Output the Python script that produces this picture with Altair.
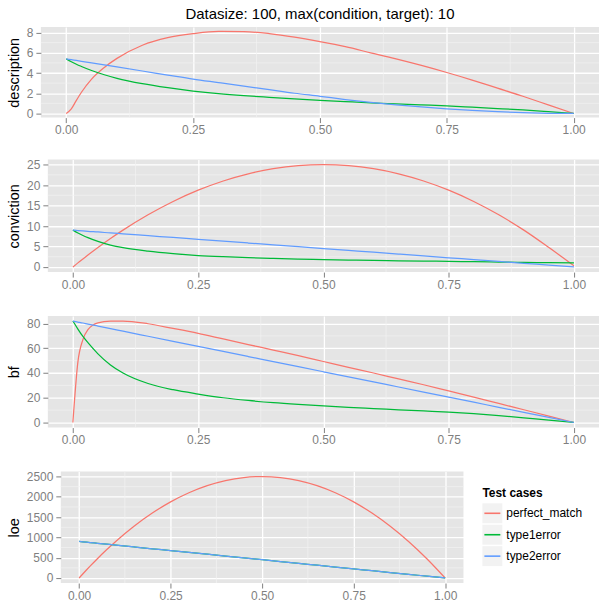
import altair as alt
import pandas as pd

# ---- data ----
x_vals = [0, 0.01, 0.02, 0.03, 0.05, 0.075, 0.1, 0.15, 0.2, 0.25, 0.3, 0.35,
          0.4, 0.45, 0.5, 0.55, 0.6, 0.65, 0.7, 0.75, 0.8, 0.85, 0.9, 0.95, 1.0]
cases = ["perfect_match", "type1error", "type2error"]
colors = ["#F8766D", "#00BA38", "#619CFF"]

description_perfect = [0, 0.45, 1.3, 2.1, 3.4, 4.55, 5.45, 6.75, 7.5, 7.9, 8.12, 8.1,
                       7.9, 7.55, 7.1, 6.6, 6.0, 5.4, 4.75, 4.05, 3.3, 2.5, 1.7, 0.85, 0]
description_type1 = [5.4, 5.12, 4.87, 4.65, 4.25, 3.83, 3.48, 2.95, 2.55, 2.22, 1.96, 1.76,
                     1.6, 1.45, 1.3, 1.17, 1.05, 0.95, 0.85, 0.75, 0.62, 0.49, 0.35, 0.18, 0]
description_type2 = [5.4, 5.32, 5.24, 5.16, 5.0, 4.8, 4.6, 4.2, 3.8, 3.4, 3.05, 2.7,
                     2.35, 2.0, 1.7, 1.38, 1.1, 0.86, 0.65, 0.46, 0.3, 0.17, 0.08, 0.02, 0]

conviction_perfect = [0, 1.0, 1.95, 2.9, 4.75, 6.95, 9.0, 12.75, 16.0, 18.75, 21.0, 22.75,
                      24.0, 24.75, 25.0, 24.75, 24.0, 22.75, 21.0, 18.75, 16.0, 12.75,
                      9.0, 4.75, 0.3]
conviction_type1 = [9.0, 8.3, 7.7, 7.15, 6.25, 5.35, 4.7, 3.85, 3.25, 2.8, 2.5, 2.27,
                    2.08, 1.93, 1.8, 1.7, 1.6, 1.52, 1.45, 1.35, 1.28, 1.2, 1.12, 1.06, 1.0]
conviction_type2 = [9.0, 8.9, 8.8, 8.7, 8.55, 8.3, 8.1, 7.65, 7.2, 6.75, 6.3, 5.85,
                    5.4, 4.95, 4.5, 4.05, 3.6, 3.15, 2.7, 2.25, 1.8, 1.35, 0.9, 0.45, 0]

bf_perfect = [0, 49, 67, 75, 80.5, 81.9, 82, 79.8, 76, 72, 67.5, 63,
              58.5, 54, 49.3, 44.6, 40, 35.2, 30.5, 25.5, 20.5, 15.4, 10.3, 5.2, 0]
bf_type1 = [82, 75.5, 69.5, 64.5, 55.5, 46.5, 40, 31.5, 26.5, 23, 20, 17.8,
            16.0, 14.6, 13.4, 12.3, 11.3, 10.3, 9.3, 8.3, 7.1, 5.6, 3.8, 2.0, 0]
bf_type2 = [82, 81.2, 80.4, 79.5, 77.9, 75.9, 73.8, 69.7, 65.6, 61.5, 57.4, 53.3,
            49.2, 45.1, 41, 36.9, 32.8, 28.7, 24.6, 20.5, 16.4, 12.3, 8.2, 4.1, 0]

loe_perfect = [0, 99, 196, 291, 475, 694, 900, 1275, 1600, 1875, 2100, 2275,
               2400, 2475, 2500, 2475, 2400, 2275, 2100, 1875, 1600, 1275, 900, 475, 0]
loe_type1 = [900, 891, 882, 873, 855, 832, 810, 765, 720, 675, 630, 585,
             540, 495, 450, 405, 360, 315, 270, 225, 180, 135, 90, 45, 0]
loe_type2 = [900, 891, 882, 873, 855, 832, 810, 765, 720, 675, 630, 585,
             540, 495, 450, 405, 360, 315, 270, 225, 180, 135, 90, 45, 0]

x_major = [0, 0.25, 0.5, 0.75, 1.0]
x_minor = [0.125, 0.375, 0.625, 0.875]

title_text = "Datasize: 100, max(condition, target): 10"
legend_title = "Test cases"

FONT = "Liberation Sans"
PANEL_BG = alt.ViewBackground(fill="#E5E5E5", stroke=None)
NO_BG = alt.ViewBackground(fill="white", stroke=None)


def long_df(series):
    rows = []
    for case, vals in zip(cases, series):
        for x, v in zip(x_vals, vals):
            rows.append({"x": x, "value": v, "case": case})
    return pd.DataFrame(rows)


color_scale = alt.Scale(domain=cases, range=colors)


def panel(series, ytitle, y_domain, y_major, y_minor, width, height, title=None):
    df = long_df(series)
    xs = alt.Scale(domain=[-0.05, 1.05], nice=False, zero=False)
    ys = alt.Scale(domain=y_domain, nice=False, zero=False)
    xaxis = alt.Axis(values=x_major, format=".2f", title=None, labelPadding=2)
    yaxis = alt.Axis(values=y_major, format="d", title=ytitle,
                     labelPadding=3, titlePadding=5)
    xenc = alt.X("x:Q", scale=xs, axis=xaxis)
    yenc = alt.Y("value:Q", scale=ys, axis=yaxis)
    minor_x = alt.Chart(pd.DataFrame({"x": x_minor})).mark_rule(
        color="#F2F2F2", strokeWidth=0.7
    ).encode(x=xenc)
    minor_y = alt.Chart(pd.DataFrame({"value": y_minor})).mark_rule(
        color="#F2F2F2", strokeWidth=0.7
    ).encode(y=yenc)
    lines = alt.Chart(df).mark_line(strokeWidth=1.25, clip=True,
                                    interpolate="monotone").encode(
        x=xenc,
        y=yenc,
        color=alt.Color("case:N", scale=color_scale, legend=None),
        detail="case:N",
    )
    props = dict(width=width, height=height, view=PANEL_BG)
    if title is not None:
        props["title"] = alt.TitleParams(title, fontSize=15, font=FONT,
                                         fontWeight="normal", color="black",
                                         anchor="middle", offset=5)
    return alt.layer(minor_x, minor_y, lines).properties(**props)


def spacer(height):
    return alt.Chart(pd.DataFrame({"s": [0]})).mark_point(
        opacity=0, size=1, strokeWidth=0).encode(
        x=alt.value(0.5), y=alt.value(height / 2)).properties(
        width=1, height=height, view=NO_BG)


p1 = panel([description_perfect, description_type1, description_type2],
           "description", [-0.41, 8.56], [0, 2, 4, 6, 8], [1, 3, 5, 7],
           560, 91, title=title_text)
p2 = panel([conviction_perfect, conviction_type1, conviction_type2],
           "conviction", [-1.25, 26.25], [0, 5, 10, 15, 20, 25],
           [2.5, 7.5, 12.5, 17.5, 22.5], 553, 113)
p3 = panel([bf_perfect, bf_type1, bf_type2],
           "bf", [-4.1, 86.1], [0, 20, 40, 60, 80], [10, 30, 50, 70], 553, 112)
p4 = panel([loe_perfect, loe_type1, loe_type2],
           "loe", [-125, 2625], [0, 500, 1000, 1500, 2000, 2500],
           [250, 750, 1250, 1750, 2250], 404, 112)

# ---- manual legend (ggplot style keys) ----
leg_df = pd.DataFrame({"case": cases})
leg_y = alt.Y("case:N", scale=alt.Scale(type="point", domain=cases,
                                          range=[42, 85], padding=0), axis=None)
keys = alt.Chart(leg_df).mark_square(size=400, color="#F2F2F2", opacity=1,
                                     filled=True).encode(x=alt.value(10), y=leg_y)
key_lines = alt.Chart(leg_df).mark_rule(strokeWidth=1.6).encode(
    x=alt.value(2), x2=alt.value(18), y=leg_y,
    color=alt.Color("case:N", scale=color_scale, legend=None))
key_text = alt.Chart(leg_df).mark_text(align="left", baseline="middle",
                                       fontSize=12, font=FONT, color="black").encode(
    x=alt.value(24), y=leg_y, text="case:N")
leg_title = alt.Chart(pd.DataFrame({"t": [legend_title]})).mark_text(
    align="left", baseline="middle", fontSize=12, font=FONT, fontWeight="bold",
    color="black").encode(x=alt.value(0), y=alt.value(22), text="t:N")
legend = alt.layer(keys, key_lines, key_text, leg_title).properties(
    width=110, height=112, view=NO_BG)

row1 = alt.hconcat(spacer(91), p1, spacing=0)
row2 = alt.hconcat(spacer(113), p2, spacing=0)
row3 = alt.hconcat(spacer(112), p3, spacing=0)
row4 = alt.hconcat(spacer(112), alt.hconcat(p4, legend, spacing=18), spacing=0)

lower = alt.vconcat(row2, row3, row4, spacing=25)

chart = alt.vconcat(row1, lower, spacing=23).properties(
    padding={"left": 5, "top": 5, "right": 0, "bottom": 0}
).configure_view(
    stroke=None
).configure_axis(
    labelFont=FONT, labelFontSize=12, labelColor="#7F7F7F",
    titleFont=FONT, titleFontSize=14.5, titleColor="black", titleFontWeight="normal",
    tickColor="#7F7F7F", tickSize=5, tickWidth=1, domain=False,
    grid=True, gridColor="white", gridWidth=1.3,
)

chart.save("out.html", embed_options={"renderer": "svg", "actions": False})
